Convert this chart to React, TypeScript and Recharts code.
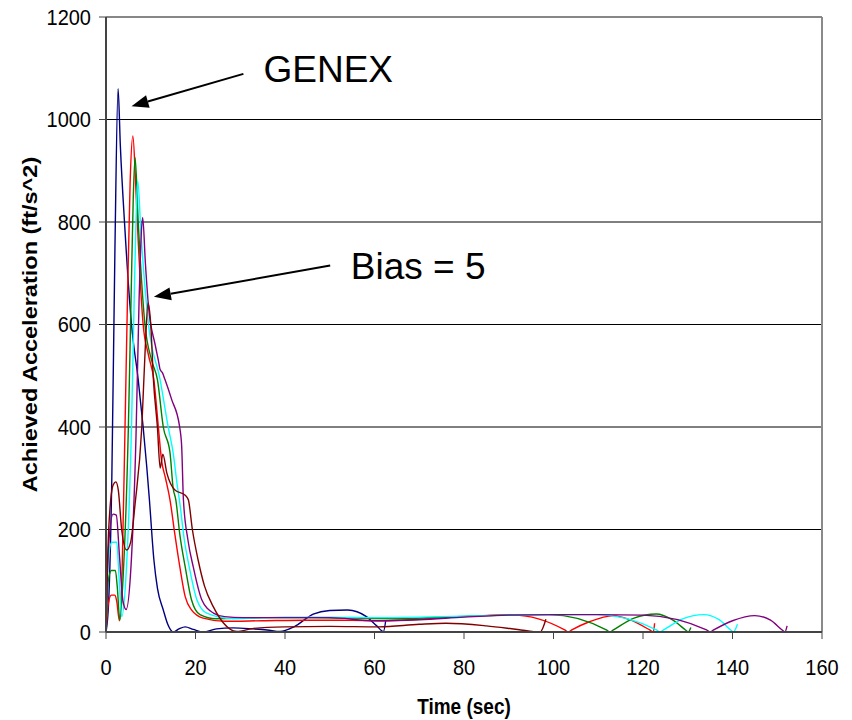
import React from 'react';
import { LineChart, Line, XAxis, YAxis, CartesianGrid, ReferenceLine, ReferenceDot, Label } from 'recharts';

// time (sec), achieved acceleration (ft/s^2)
const genex: number[][] = [
  [0, 0], [0.6, 60], [1.3, 300], [2.0, 750], [2.7, 1060], [3.2, 950], [4.2, 790], [5.7, 600],
  [7.2, 492], [8.3, 400], [9.1, 323], [9.7, 258], [10.7, 141], [11.5, 85], [12.8, 43], [13.8, 15],
  [15, 0], [16.3, 6], [17.7, 10], [19.5, 5], [21.7, 0], [24.7, 6], [28.4, 8], [32.9, 6], [36, 4],
  [38.9, 1], [42, 10], [46.3, 35], [50, 42], [54, 43], [58.2, 30], [60.5, 12], [62, 1], [62.5, 22],
];

const redRun: number[][] = [
  [0, 0], [0.5, 55], [1.2, 72], [2.0, 72], [2.4, 60], [3.0, 22], [3.6, 120], [4.25, 400], [4.8, 650],
  [5.4, 880], [6.0, 968], [6.6, 880], [7.0, 800], [8.3, 600], [9.5, 540], [10.7, 492], [11.7, 400],
  [12.4, 336], [13.3, 300], [14.3, 258], [15.4, 190], [16.5, 127], [17.7, 69], [19.1, 43], [21.7, 27],
  [26.5, 21], [35, 22], [45, 23], [55, 23], [62, 22], [70, 25], [80, 30], [88, 33], [91, 33],
  [102.5, 4], [103.3, 0], [104.1, 4], [108, 20], [113.4, 32], [117, 24], [121.5, 4], [122.3, 0], [122.6, 17],
];

const greenRun: number[][] = [
  [0, 0], [0.5, 100], [1.2, 120], [2.1, 120], [2.5, 90], [3.1, 23], [3.9, 120], [5.0, 400], [5.6, 650],
  [6.1, 850], [6.5, 926], [7.2, 800], [8.7, 600], [10.2, 530], [11.5, 492], [12.8, 400], [14.3, 350],
  [15.0, 281], [15.6, 258], [16.5, 190], [17.7, 127], [19.1, 63], [21, 34], [24.6, 26], [35, 28],
  [45, 28], [55, 27], [65, 26], [75, 29], [85, 32], [92, 34], [99, 34],
  [111.8, 4], [112.6, 0], [113.4, 4], [118, 27], [123, 35], [126.5, 24], [129.5, 4], [130.1, 0], [130.7, 9],
];

const cyanRun: number[][] = [
  [0, 0], [0.5, 140], [1.3, 175], [2.4, 175], [2.9, 110], [3.5, 30], [4.6, 130], [5.7, 400], [6.3, 650],
  [6.8, 830], [7.1, 880], [7.8, 780], [9.5, 600], [12.1, 492], [13.9, 400], [15.0, 350], [16.0, 281],
  [16.4, 258], [17.5, 180], [18.6, 127], [20.3, 63], [22.5, 37], [28.5, 26], [40, 29], [50, 29],
  [60, 28], [70, 29], [80, 31], [90, 33], [100, 34], [109.6, 34],
  [123, 4], [123.8, 0], [124.6, 4], [129, 26], [133.5, 34], [137, 24], [139.6, 4], [140.2, 0], [141.1, 15],
];

const purpleRun: number[][] = [
  [0, 0], [0.5, 160], [1.6, 230], [2.3, 228], [3.0, 150], [3.8, 60], [4.5, 44], [5.6, 130], [6.7, 380],
  [7.4, 650], [7.9, 780], [8.2, 809], [8.8, 720], [9.5, 635], [11.0, 560], [11.7, 530], [12.1, 512],
  [12.6, 506], [13.2, 492], [14.7, 453], [16.4, 403], [16.9, 364], [17.3, 258], [18.3, 180],
  [19.5, 127], [21.4, 63], [24, 37], [26.5, 30], [30.6, 28], [40, 28], [50, 28], [60, 22], [70, 24],
  [80, 29], [90, 33], [100, 34], [110, 34], [120, 33],
  [134.2, 4], [135, 0], [135.8, 4], [140, 22], [145, 32], [148.5, 23], [151.1, 4], [151.7, 0], [152.2, 12],
];

const biasRun: number[][] = [
  [0, 0], [0.6, 200], [1.6, 287], [2.2, 293], [2.75, 277], [3.5, 200], [4.6, 160], [5.5, 175],
  [6.5, 250], [8.0, 400], [8.8, 560], [9.4, 642], [10.0, 600], [10.6, 492], [11.5, 398], [12.1, 320],
  [12.7, 347], [13.6, 310], [15.4, 277], [17.7, 267], [18.4, 258], [19.3, 200], [20.6, 140], [22, 90],
  [24, 49], [26.2, 18], [29.2, 1], [33, 7], [40, 10], [50, 11], [61, 10], [70, 15], [76, 17],
  [85, 12], [92, 5], [97, 0], [98.3, 25],
];

const series = [
  { name: 'GENEX', points: genex, color: '#000080' },
  { name: 'Run 2', points: redRun, color: '#FF0000' },
  { name: 'Run 3', points: greenRun, color: '#008000' },
  { name: 'Run 4', points: cyanRun, color: '#00FFFF' },
  { name: 'Run 5', points: purpleRun, color: '#800080' },
  { name: 'Bias = 5', points: biasRun, color: '#800000' },
];

const xTicks = [0, 20, 40, 60, 80, 100, 120, 140, 160];
const yTicks = [0, 200, 400, 600, 800, 1000, 1200];

// annotation anchors in data units: [arrow start, arrow tip, text left/baseline]
const genexArrow = [{ x: 30.7, y: 1089 }, { x: 5.7, y: 1026 }];
const genexText = { x: 35.2, y: 1074 };
const biasArrow = [{ x: 50.1, y: 715 }, { x: 10.7, y: 654 }];
const biasText = { x: 54.7, y: 688 };

const FONT = '"Liberation Sans", Arial, sans-serif';

const YTick = (props: any) => {
  const { x, y, payload } = props;
  return (
    <g transform={`translate(${x},${y + 7.5}) scale(1,1.1)`}>
      <text x={0} y={0} textAnchor="end" fontFamily={FONT} fontSize={20} fill="#000">
        {payload.value}
      </text>
    </g>
  );
};

const XTick = (props: any) => {
  const { x, y, payload } = props;
  return (
    <g transform={`translate(${x},${y + 28}) scale(1,1.1)`}>
      <text x={0} y={0} textAnchor="middle" fontFamily={FONT} fontSize={20} fill="#000">
        {payload.value}
      </text>
    </g>
  );
};

const Arrow = (props: any) => {
  const { x1, y1, x2, y2 } = props;
  const ang = Math.atan2(y2 - y1, x2 - x1);
  const len = 17;
  const half = 6.5;
  const bx = x2 - len * Math.cos(ang);
  const by = y2 - len * Math.sin(ang);
  const px = -Math.sin(ang) * half;
  const py = Math.cos(ang) * half;
  return (
    <g>
      <line x1={x1} y1={y1} x2={bx} y2={by} stroke="#000" strokeWidth={2} />
      <polygon points={`${x2},${y2} ${bx + px},${by + py} ${bx - px},${by - py}`} fill="#000" />
    </g>
  );
};

const annotationText = (text: string) => (props: any) => (
  <text x={props.cx} y={props.cy} fontFamily={FONT} fontSize={37} fill="#000">
    {text}
  </text>
);

export default function App() {
  return (
    <div style={{ position: 'absolute', left: 0, top: 0, background: '#fff' }}>
      <LineChart width={852} height={720} margin={{ top: 17, right: 30, bottom: 48, left: 0 }}>
        <CartesianGrid vertical={false} stroke="#000" strokeWidth={1} />
        <XAxis
          type="number"
          dataKey="t"
          domain={[0, 160]}
          ticks={xTicks}
          height={40}
          tickSize={7}
          tickMargin={8}
          axisLine={{ stroke: '#444', strokeWidth: 2 }}
          tickLine={{ stroke: '#444', strokeWidth: 1 }}
          tick={<XTick />}
          allowDataOverflow
        >
          <Label
            content={(p: any) => {
              const vb = p.viewBox;
              return (
                <g transform={`translate(${vb.x + vb.width / 2},${vb.y + 82}) scale(1,1.15)`}>
                  <text x={0} y={0} textAnchor="middle" fontFamily={FONT} fontWeight="bold" fontSize={19}>
                    Time (sec)
                  </text>
                </g>
              );
            }}
          />
        </XAxis>
        <YAxis
          type="number"
          domain={[0, 1200]}
          ticks={yTicks}
          width={106}
          tickSize={7}
          tickMargin={8}
          axisLine={{ stroke: '#444', strokeWidth: 2 }}
          tickLine={{ stroke: '#444', strokeWidth: 1 }}
          tick={<YTick />}
          allowDataOverflow
        >
          <Label
            content={(p: any) => {
              const vb = p.viewBox;
              return (
                <g transform={`translate(36.5,${vb.y + vb.height / 2}) rotate(-90) scale(1.12,1)`}>
                  <text x={0} y={0} textAnchor="middle" fontFamily={FONT} fontWeight="bold" fontSize={21}>
                    Achieved Acceleration (ft/s^2)
                  </text>
                </g>
              );
            }}
          />
        </YAxis>
        <ReferenceLine y={1200} stroke="#8a8a8a" strokeWidth={1.5} />
        <ReferenceLine x={160} stroke="#8a8a8a" strokeWidth={2} />
        {series.map((s) => (
          <Line
            key={s.name}
            name={s.name}
            data={s.points.map(([t, v]) => ({ t, v }))}
            dataKey="v"
            type="monotone"
            stroke={s.color}
            strokeWidth={1.4}
            dot={false}
            activeDot={false}
            isAnimationActive={false}
          />
        ))}
        <ReferenceLine segment={genexArrow} shape={Arrow} />
        <ReferenceLine segment={biasArrow} shape={Arrow} />
        <ReferenceDot x={genexText.x} y={genexText.y} r={0} shape={annotationText('GENEX')} />
        <ReferenceDot x={biasText.x} y={biasText.y} r={0} shape={annotationText('Bias = 5')} />
      </LineChart>
    </div>
  );
}
